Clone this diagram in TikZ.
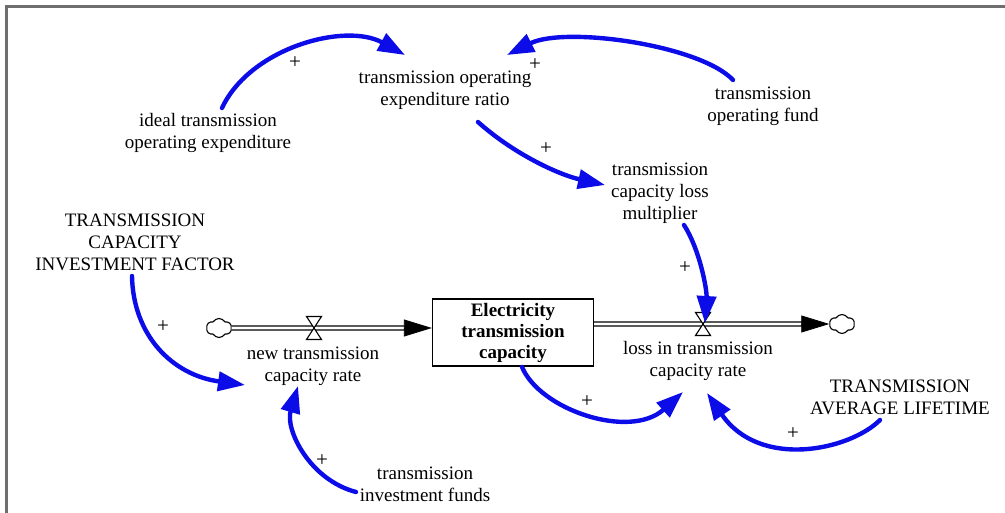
\documentclass[tikz,border=0pt]{standalone}
\usepackage{fontspec}
\setmainfont{Liberation Serif}
\usetikzlibrary{arrows.meta,shapes.symbols}
\definecolor{linkblue}{RGB}{12,12,232}
\definecolor{framegray}{RGB}{110,110,110}
\begin{document}
\begin{tikzpicture}[x=1pt,y=-1pt,
  lbl/.style={align=center,inner sep=0pt,font=\fontsize{19}{22}\selectfont},
  stockbox/.style={draw,line width=1.3pt,minimum width=161pt,minimum height=67pt,
    align=center,inner sep=0pt,font=\bfseries\fontsize{19}{21}\selectfont},
  cloudy/.style={cloud,cloud puffs=6,cloud puff arc=120,draw,line width=1.1pt,
    minimum width=25pt,minimum height=19pt,inner sep=0pt},
  link/.style={draw=linkblue,line width=4.4pt,line cap=round,
    -{Triangle[length=27pt,width=19pt]}},
  pipe/.style={draw=black,line width=1.3pt,double=white,double distance=2.6pt},
  pipetip/.style={draw=black,line width=0.8pt,-{Triangle[length=28pt,width=17pt]}},
  plus/.style={inner sep=0pt,font=\fontsize{21}{21}\selectfont},
  valve/.pic={\draw[fill=white,line width=1.1pt]
    (-7.5,-11.5) -- (7.5,-11.5) -- (-7.5,11.5) -- (7.5,11.5) -- cycle;}]

% page and frame
\fill[white] (0,0) rectangle (1005,513);
\useasboundingbox (0,0) rectangle (1005,513);
\draw[framegray,line width=3pt] (1005,7) -- (6,7) -- (6,513);

% variables
\node[lbl] (ratio) at (445,90) {transmission operating\\expenditure ratio};
\node[lbl] (ideal) at (208,133) {ideal transmission\\operating expenditure};
\node[lbl] (fund) at (763,106) {transmission\\operating fund};
\node[lbl] (mult) at (660,193) {transmission\\capacity loss\\multiplier};
\node[lbl] (factor) at (135,242) {TRANSMISSION\\CAPACITY\\INVESTMENT FACTOR};
\node[lbl] (newrate) at (313,366) {new transmission\\capacity rate};
\node[lbl] (lossrate) at (698,361) {loss in transmission\\capacity rate};
\node[lbl] (life) at (900,397) {TRANSMISSION\\AVERAGE LIFETIME};
\node[lbl] (funds) at (425,484) {transmission\\investment funds};

% stock, sources and sinks
\node[stockbox] (stock) at (513,332.5) {Electricity\\transmission\\capacity};
\node[cloudy] (cl1) at (219,328) {};
\node[cloudy] (cl2) at (842,324) {};
\coordinate (v1) at (314,328);
\coordinate (v2) at (703,324);

% flows
\draw[pipe] (cl1.east) -- ([xshift=-26pt]cl1 -| stock.west);
\draw[pipetip] ([xshift=-28pt]cl1 -| stock.west) -- (cl1 -| stock.west);
\draw[pipe] (stock.east |- cl2) -- ([xshift=-26pt]cl2.west);
\draw[pipetip] ([xshift=-28pt]cl2.west) -- (cl2.west);
\pic at (v1) {valve};
\pic at (v2) {valve};

% causal links
\draw[link] ([shift={(14,-25)}]ideal.center) .. controls (250,48) and (345,22) .. ([shift={(-40,-35)}]ratio.center);
\draw[link] ([shift={(-30,-26)}]fund.center) .. controls (700,45) and (565,26) .. ([shift={(62,-35)}]ratio.center);
\draw[link] ([shift={(33,32)}]ratio.center) .. controls (515,155) and (560,175) .. ([shift={(-55,-8)}]mult.center);
\draw[link] ([shift={(24,32)}]mult.center) .. controls (700,250) and (707,290) .. ([shift={(2,-1)}]v2);
\draw[link] ([shift={(-3,34)}]factor.center) .. controls (133,335) and (172,375) .. ([shift={(-68,19)}]newrate.center);
\draw[link] ([shift={(-69,8)}]funds.center) .. controls (310,480) and (285,430) .. ([shift={(-15,20)}]newrate.center);
\draw[link] ([shift={(9,34.5)}]stock.center) .. controls (540,410) and (630,440) .. ([shift={(-15,31)}]lossrate.center);
\draw[link] ([shift={(-20,23)}]life.center) .. controls (850,450) and (760,470) .. ([shift={(9,32)}]lossrate.center);

% polarities
\node[plus] (p1) at (295,63) {+};
\node[plus] (p2) at (535,65) {+};
\node[plus] (p3) at (546,149) {+};
\node[plus] (p4) at (685,268) {+};
\node[plus] (p5) at (163,327) {+};
\node[plus] (p6) at (322,461) {+};
\node[plus] (p7) at (587,402) {+};
\node[plus] (p8) at (793,434) {+};
\end{tikzpicture}
\end{document}
